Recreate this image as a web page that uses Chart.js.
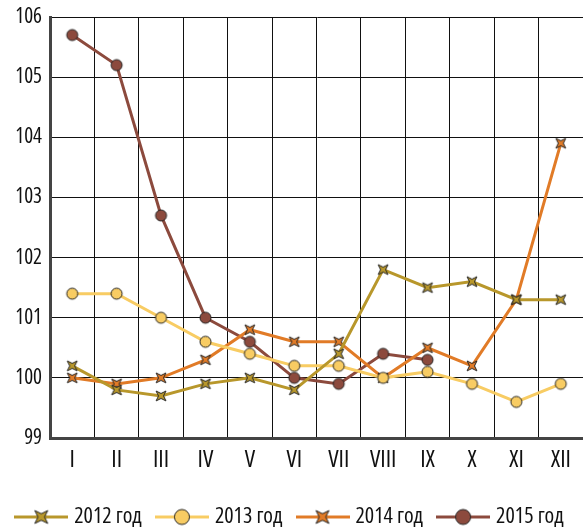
<!DOCTYPE html>
<html lang="ru">
<head>
<meta charset="UTF-8">
<title>Индексы цен</title>
<style>
  body { margin: 0; background: #fff; }
  #wrap { width: 583px; height: 527px; }
</style>
</head>
<body>
<div id="wrap"><canvas id="myChart" width="583" height="527"></canvas></div>
<script src="https://cdn.jsdelivr.net/npm/chart.js"></script>
<script>
  // данные
  var meses = ['I', 'II', 'III', 'IV', 'V', 'VI', 'VII', 'VIII', 'IX', 'X', 'XI', 'XII'];
  var anos = ['2012 год', '2013 год', '2014 год', '2015 год'];
  var v2012 = [100.2, 99.8, 99.7, 99.9, 100.0, 99.8, 100.4, 101.8, 101.5, 101.6, 101.3, 101.3];
  var v2013 = [101.4, 101.4, 101.0, 100.6, 100.4, 100.2, 100.2, 100.0, 100.1, 99.9, 99.6, 99.9];
  var v2014 = [100.0, 99.9, 100.0, 100.3, 100.8, 100.6, 100.6, 100.0, 100.5, 100.2, 101.3, 103.9];
  var v2015 = [105.7, 105.2, 102.7, 101.0, 100.6, 100.0, 99.9, 100.4, 100.3, null, null, null];
  var yMin = 99, yMax = 106, yPasso = 1;

  var cores = ['#B8972B', '#F8CC63', '#E17B27', '#8C4A3D'];
  var tipos = ['estrela', 'circulo', 'estrela', 'circulo'];
  var fonte = "'Open Sans', sans-serif";

  // desenha o marcador (e a linha, para a legenda)
  function marcador(tipo, cor, tam, largura) {
    var c = document.createElement('canvas');
    c.width = largura || tam + 4;
    c.height = tam + 4;
    var g = c.getContext('2d');
    var cx = c.width / 2, cy = c.height / 2;
    if (largura) {
      g.strokeStyle = cor;
      g.lineWidth = 3;
      g.beginPath();
      g.moveTo(0, cy);
      g.lineTo(c.width, cy);
      g.stroke();
    }
    g.fillStyle = cor;
    g.strokeStyle = '#222';
    g.lineWidth = 1;
    g.beginPath();
    if (tipo == 'circulo') {
      g.arc(cx, cy, tam / 2, 0, Math.PI * 2);
    } else {
      var R = tam / 2 * 1.4, r = tam / 2 * 0.5;
      for (var k = 0; k < 8; k++) {
        var ang = Math.PI / 4 + k * Math.PI / 4;
        var rr = (k % 2 == 0) ? R : r;
        var px = cx + Math.cos(ang) * rr, py = cy + Math.sin(ang) * rr;
        if (k == 0) g.moveTo(px, py); else g.lineTo(px, py);
      }
      g.closePath();
    }
    g.fill();
    g.stroke();
    return c;
  }

  var series = [v2012, v2013, v2014, v2015];
  var datasets = series.map(function (v, i) {
    return {
      label: anos[i],
      data: v,
      borderColor: cores[i],
      backgroundColor: cores[i],
      borderWidth: 3,
      pointStyle: marcador(tipos[i], cores[i], tipos[i] == 'circulo' ? 11 : 10),
      tension: 0,
      spanGaps: false
    };
  });
  var legendaImgs = series.map(function (v, i) {
    return marcador(tipos[i], cores[i], tipos[i] == 'circulo' ? 15 : 13, 54);
  });

  const ctx = document.getElementById('myChart');
  new Chart(ctx, {
    type: 'line',
    data: { labels: meses, datasets: datasets },
    options: {
      responsive: false,
      animation: false,
      layout: { autoPadding: false, padding: { top: 17, right: 0, left: 0, bottom: -11 } },
      plugins: {
        legend: {
          position: 'bottom',
          labels: {
            usePointStyle: true,
            pointStyleWidth: 44,
            boxHeight: 18,
            padding: 18,
            color: '#111',
            font: { family: fonte, weight: 'condensed', size: 22, lineHeight: 1 },
            generateLabels: function (chart) {
              return chart.data.datasets.map(function (ds, i) {
                return {
                  text: ds.label,
                  pointStyle: legendaImgs[i],
                  fillStyle: 'transparent',
                  strokeStyle: 'transparent',
                  lineWidth: 0,
                  hidden: false,
                  datasetIndex: i,
                  fontColor: '#111'
                };
              });
            }
          }
        },
        tooltip: { enabled: false }
      },
      scales: {
        x: {
          offset: true,
          grid: { offset: true, color: '#111', lineWidth: 1, drawTicks: false },
          border: { color: '#444', width: 3 },
          ticks: { color: '#111', padding: 8, font: { family: fonte, weight: 'condensed', size: 24 } },
          afterFit: function (s) { s.height = 50; s.paddingLeft = 0; s.paddingRight = 0; }
        },
        y: {
          min: yMin,
          max: yMax,
          grid: { color: '#111', lineWidth: 1, drawTicks: false },
          border: { color: '#444', width: 3 },
          ticks: { stepSize: yPasso, color: '#111', padding: 8, font: { family: fonte, weight: 'condensed', size: 21 } },
          afterFit: function (s) { s.width = 50; s.paddingTop = 0; s.paddingBottom = 0; }
        }
      }
    }
  });
</script>
</body>
</html>
